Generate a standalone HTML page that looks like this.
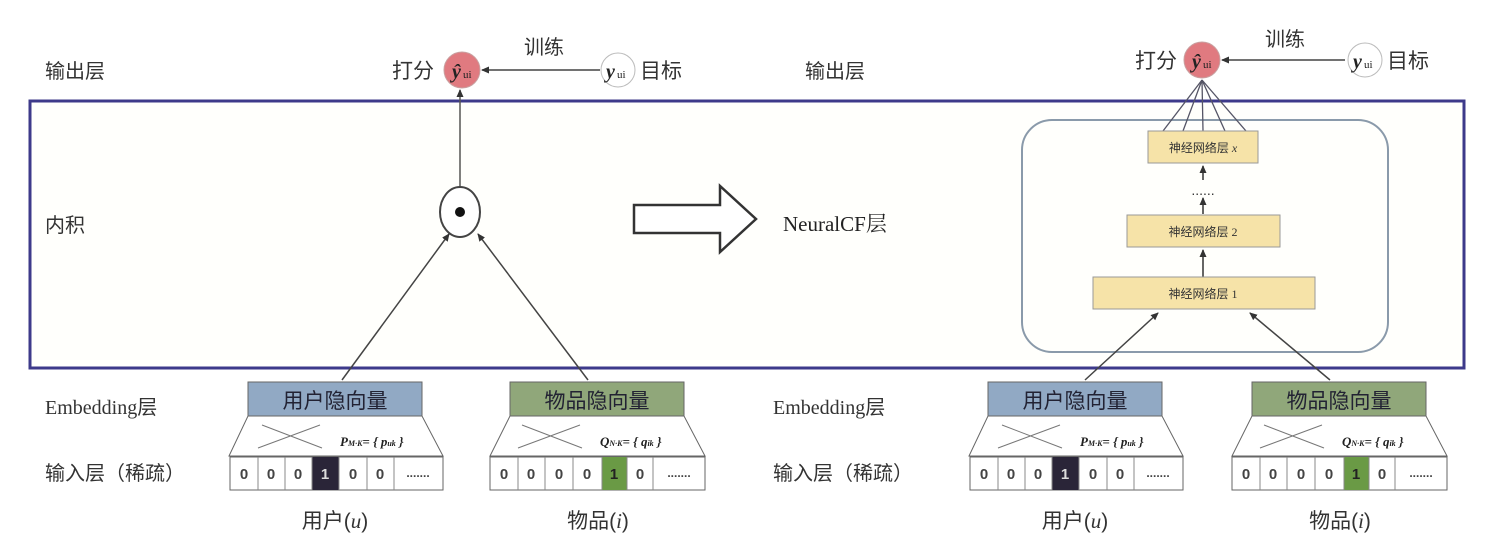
<!DOCTYPE html>
<html><head><meta charset="utf-8"><style>
html,body{margin:0;padding:0;background:#fff;}
svg{display:block}
.t{font-family:"Liberation Sans","Noto Sans CJK SC",sans-serif;font-size:20px;fill:#333}
.s{font-family:"Liberation Serif","Noto Serif CJK SC",serif;fill:#222}
.c{font-family:"Liberation Sans",sans-serif;font-size:15px;font-weight:bold;fill:#444;text-anchor:middle}
.nn{font-family:"Liberation Serif","Noto Sans CJK SC",serif;font-size:12px;fill:#333;text-anchor:middle}
</style></head><body>
<svg width="1486" height="558" viewBox="0 0 1486 558" xmlns="http://www.w3.org/2000/svg">
<defs>
<marker id="a" markerWidth="8" markerHeight="8" refX="7" refY="4" orient="auto" markerUnits="userSpaceOnUse"><path d="M0,0.5 L8,4 L0,7.5z" fill="#333"/></marker>
<g id="emb">
 <rect x="18" y="0" width="174" height="34" fill="VAR" stroke="#555"/>
</g>
</defs>
<rect width="1486" height="558" fill="#fff"/>
<rect x="30" y="101" width="1434" height="267" fill="#fffffc" stroke="#3d3a8a" stroke-width="3"/>

<!-- left labels -->
<text class="t" x="45" y="78">输出层</text>
<text class="t" x="45" y="232">内积</text>
<text class="t" x="45" y="414" style="font-family:'Liberation Serif','Noto Sans CJK SC',serif">Embedding层</text>
<text class="t" x="45" y="480">输入层（稀疏）</text>

<!-- left output -->
<text class="t" x="392" y="78" style="font-size:21px">打分</text>
<circle cx="462" cy="70" r="18" fill="#e07a80" stroke="#c9a0a0"/>
<text class="s" x="452" y="78" font-size="20" font-style="italic" font-weight="bold">ŷ</text><text class="s" x="463" y="78" font-size="11">ui</text>
<text class="t" x="524" y="54">训练</text>
<line x1="600" y1="70" x2="482" y2="70" stroke="#444" stroke-width="1.5" marker-end="url(#a)"/>
<circle cx="618" cy="70" r="17" fill="#fff" stroke="#bbb"/>
<text class="s" x="606" y="78" font-size="20" font-style="italic" font-weight="bold">y</text><text class="s" x="617" y="78" font-size="11">ui</text>
<text class="t" x="640" y="78" style="font-size:21px">目标</text>
<line x1="460" y1="187" x2="460" y2="90" stroke="#555" stroke-width="1.5" marker-end="url(#a)"/>
<ellipse cx="460" cy="212" rx="20" ry="25" fill="#fff" stroke="#444" stroke-width="2"/>
<circle cx="460" cy="212" r="5" fill="#111"/>
<line x1="342" y1="380" x2="449" y2="234" stroke="#444" stroke-width="1.5" marker-end="url(#a)"/>
<line x1="588" y1="380" x2="478" y2="234" stroke="#444" stroke-width="1.5" marker-end="url(#a)"/>

<!-- big arrow -->
<path d="M634,205 L720,205 L720,186 L756,219 L720,252 L720,233 L634,233 Z" fill="#fff" stroke="#333" stroke-width="2.5"/>
<text class="s" x="783" y="231" font-size="21">NeuralCF层</text>

<!-- right labels -->
<text class="t" x="805" y="78">输出层</text>
<text class="t" x="773" y="414" style="font-family:'Liberation Serif','Noto Sans CJK SC',serif">Embedding层</text>
<text class="t" x="773" y="480">输入层（稀疏）</text>

<!-- right output -->
<text class="t" x="1135" y="68" style="font-size:21px">打分</text>
<circle cx="1202" cy="60" r="18" fill="#e07a80" stroke="#c9a0a0"/>
<text class="s" x="1192" y="68" font-size="20" font-style="italic" font-weight="bold">ŷ</text><text class="s" x="1203" y="68" font-size="11">ui</text>
<text class="t" x="1265" y="46">训练</text>
<line x1="1345" y1="60" x2="1222" y2="60" stroke="#444" stroke-width="1.5" marker-end="url(#a)"/>
<circle cx="1365" cy="60" r="17" fill="#fff" stroke="#bbb"/>
<text class="s" x="1353" y="68" font-size="20" font-style="italic" font-weight="bold">y</text><text class="s" x="1364" y="68" font-size="11">ui</text>
<text class="t" x="1387" y="68" style="font-size:21px">目标</text>

<rect x="1022" y="120" width="366" height="232" rx="30" fill="none" stroke="#8a9aaa" stroke-width="2"/>
<g stroke="#556" stroke-width="1.3">
<line x1="1202" y1="80" x2="1163" y2="131"/><line x1="1202" y1="80" x2="1183" y2="131"/><line x1="1202" y1="80" x2="1203" y2="131"/><line x1="1202" y1="80" x2="1225" y2="131"/><line x1="1202" y1="80" x2="1246" y2="131"/>
</g>
<rect x="1148" y="131" width="110" height="32" fill="#f6e3a8" stroke="#999"/>
<text class="nn" x="1203" y="152">神经网络层 <tspan font-style="italic">x</tspan></text>
<line x1="1203" y1="180" x2="1203" y2="166" stroke="#333" stroke-width="1.5" marker-end="url(#a)"/>
<text x="1203" y="195" font-size="14" text-anchor="middle" fill="#333" font-family="Liberation Sans">......</text>
<line x1="1203" y1="214" x2="1203" y2="198" stroke="#333" stroke-width="1.5" marker-end="url(#a)"/>
<rect x="1127" y="215" width="153" height="32" fill="#f6e3a8" stroke="#999"/>
<text class="nn" x="1203" y="236">神经网络层 2</text>
<line x1="1203" y1="277" x2="1203" y2="250" stroke="#333" stroke-width="1.5" marker-end="url(#a)"/>
<rect x="1093" y="277" width="222" height="32" fill="#f6e3a8" stroke="#999"/>
<text class="nn" x="1203" y="298">神经网络层 1</text>
<line x1="1085" y1="380" x2="1158" y2="313" stroke="#444" stroke-width="1.5" marker-end="url(#a)"/>
<line x1="1330" y1="380" x2="1250" y2="313" stroke="#444" stroke-width="1.5" marker-end="url(#a)"/>

<!-- embedding blocks -->
<!-- left user -->
<g transform="translate(0,0)">
<rect x="248" y="382" width="174" height="34" fill="#91a9c4" stroke="#666"/>
<text class="t" x="335" y="408" text-anchor="middle" style="font-size:21px;fill:#223">用户隐向量</text>
<path d="M248,416 L422,416 L443,456 L229,456 Z" fill="#fff" stroke="#666"/>
<line x1="258" y1="448" x2="320" y2="425" stroke="#777"/><line x1="262" y1="425" x2="322" y2="448" stroke="#777"/>
<text class="s" x="340" y="446" font-size="13" font-style="italic" font-weight="bold">P<tspan font-size="8">M·K</tspan>= { p<tspan font-size="8">uk</tspan> }</text>
</g>
<g transform="translate(740,0)">
<rect x="248" y="382" width="174" height="34" fill="#91a9c4" stroke="#666"/>
<text class="t" x="335" y="408" text-anchor="middle" style="font-size:21px;fill:#223">用户隐向量</text>
<path d="M248,416 L422,416 L443,456 L229,456 Z" fill="#fff" stroke="#666"/>
<line x1="258" y1="448" x2="320" y2="425" stroke="#777"/><line x1="262" y1="425" x2="322" y2="448" stroke="#777"/>
<text class="s" x="340" y="446" font-size="13" font-style="italic" font-weight="bold">P<tspan font-size="8">M·K</tspan>= { p<tspan font-size="8">uk</tspan> }</text>
</g>
<g transform="translate(0,0)">
<rect x="510" y="382" width="174" height="34" fill="#90a77a" stroke="#666"/>
<text class="t" x="597" y="408" text-anchor="middle" style="font-size:21px;fill:#223">物品隐向量</text>
<path d="M510,416 L684,416 L705,456 L490,456 Z" fill="#fff" stroke="#666"/>
<line x1="518" y1="448" x2="580" y2="425" stroke="#777"/><line x1="522" y1="425" x2="582" y2="448" stroke="#777"/>
<text class="s" x="600" y="446" font-size="13" font-style="italic" font-weight="bold">Q<tspan font-size="8">N·K</tspan>= { q<tspan font-size="8">ik</tspan> }</text>
</g>
<g transform="translate(742,0)">
<rect x="510" y="382" width="174" height="34" fill="#90a77a" stroke="#666"/>
<text class="t" x="597" y="408" text-anchor="middle" style="font-size:21px;fill:#223">物品隐向量</text>
<path d="M510,416 L684,416 L705,456 L490,456 Z" fill="#fff" stroke="#666"/>
<line x1="518" y1="448" x2="580" y2="425" stroke="#777"/><line x1="522" y1="425" x2="582" y2="448" stroke="#777"/>
<text class="s" x="600" y="446" font-size="13" font-style="italic" font-weight="bold">Q<tspan font-size="8">N·K</tspan>= { q<tspan font-size="8">ik</tspan> }</text>
</g>

<!-- user cells -->
<g id="uc">
<rect x="230" y="457" width="213" height="33" fill="#fff" stroke="#666"/>
<rect x="312" y="457" width="27" height="33" fill="#2a2538"/>
<g stroke="#888"><line x1="258" y1="457" x2="258" y2="490"/><line x1="285" y1="457" x2="285" y2="490"/><line x1="312" y1="457" x2="312" y2="490"/><line x1="339" y1="457" x2="339" y2="490"/><line x1="367" y1="457" x2="367" y2="490"/><line x1="394" y1="457" x2="394" y2="490"/></g>
<text class="c" x="244" y="479">0</text><text class="c" x="271" y="479">0</text><text class="c" x="298" y="479">0</text><text class="c" x="325" y="479" style="fill:#ddd">1</text><text class="c" x="353" y="479">0</text><text class="c" x="380" y="479">0</text><text class="c" x="418" y="477" style="font-size:12px">.......</text>
</g>
<use href="#uc" x="740"/>
<g id="ic">
<rect x="490" y="457" width="215" height="33" fill="#fff" stroke="#666"/>
<rect x="602" y="457" width="25" height="33" fill="#6a9a45"/>
<g stroke="#888"><line x1="518" y1="457" x2="518" y2="490"/><line x1="545" y1="457" x2="545" y2="490"/><line x1="573" y1="457" x2="573" y2="490"/><line x1="602" y1="457" x2="602" y2="490"/><line x1="627" y1="457" x2="627" y2="490"/><line x1="653" y1="457" x2="653" y2="490"/></g>
<text class="c" x="504" y="479">0</text><text class="c" x="531" y="479">0</text><text class="c" x="559" y="479">0</text><text class="c" x="587" y="479">0</text><text class="c" x="614" y="479" style="fill:#222">1</text><text class="c" x="640" y="479">0</text><text class="c" x="679" y="477" style="font-size:12px">.......</text>
</g>
<use href="#ic" x="742"/>

<text class="t" x="335" y="528" text-anchor="middle" style="font-size:21px">用户(<tspan font-style="italic" font-family="Liberation Serif">u</tspan>)</text>
<text class="t" x="598" y="528" text-anchor="middle" style="font-size:21px">物品(<tspan font-style="italic" font-family="Liberation Serif">i</tspan>)</text>
<text class="t" x="1075" y="528" text-anchor="middle" style="font-size:21px">用户(<tspan font-style="italic" font-family="Liberation Serif">u</tspan>)</text>
<text class="t" x="1340" y="528" text-anchor="middle" style="font-size:21px">物品(<tspan font-style="italic" font-family="Liberation Serif">i</tspan>)</text>
</svg>
</body></html>
